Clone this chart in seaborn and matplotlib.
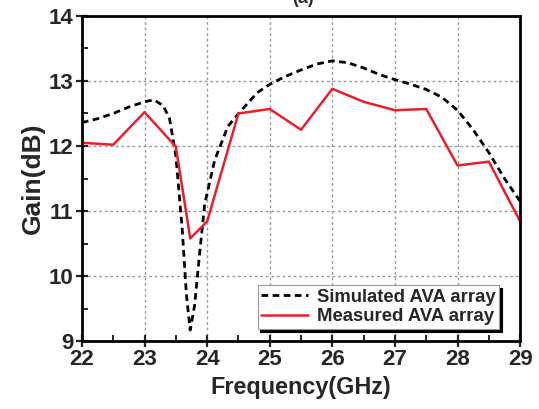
import matplotlib
import numpy as np
import pandas as pd
import seaborn as sns

matplotlib.use("Agg")
import matplotlib.pyplot as plt
from matplotlib.ticker import MultipleLocator

# simulated AVA array
sim_freq = [22.0, 22.25, 22.5, 22.75, 23.0, 23.15, 23.3, 23.4, 23.5, 23.6, 23.67,
            23.73, 23.8, 23.87, 23.96, 24.12, 24.33, 24.52, 24.8, 25.0, 25.25,
            25.5, 25.75, 26.0, 26.25, 26.5, 26.75, 27.0, 27.25, 27.5, 27.75,
            28.0, 28.25, 28.5, 28.75, 29.0]
sim_gain = [12.36, 12.42, 12.50, 12.60, 12.68, 12.71, 12.62, 12.42, 11.85, 10.75, 9.70,
            9.17, 9.55, 10.25, 11.10, 11.78, 12.30, 12.52, 12.82, 12.95, 13.07,
            13.17, 13.26, 13.31, 13.28, 13.20, 13.10, 13.02, 12.95, 12.87, 12.75,
            12.55, 12.25, 11.90, 11.50, 11.15]

# measured AVA array
meas_freq = [22.0, 22.5, 23.0, 23.5, 23.73, 24.0, 24.5, 25.0, 25.5, 26.0, 26.5,
             27.0, 27.5, 28.0, 28.5, 29.0]
meas_gain = [12.05, 12.02, 12.52, 11.99, 10.58, 10.84, 12.50, 12.57, 12.25, 12.88, 12.68,
             12.55, 12.57, 11.70, 11.76, 10.84]

sns.set_theme(style="ticks")
plt.rcParams["font.family"] = ["Liberation Sans", "DejaVu Sans"]
plt.rcParams["font.weight"] = "bold"

sim = pd.DataFrame({"freq": sim_freq, "gain": sim_gain})
meas = pd.DataFrame({"freq": meas_freq, "gain": meas_gain})

fig = plt.figure(figsize=(5.39, 4.09), dpi=100)
ax = fig.add_axes([0.152, 0.166, 0.813, 0.795])

sns.lineplot(data=sim, x="freq", y="gain", ax=ax, color="black", lw=2.0,
             dashes=False, linestyle=(0, (2.4, 1.6)), label="Simulated AVA array")
sns.lineplot(data=meas, x="freq", y="gain", ax=ax, color="#e8202a", lw=1.8,
             label="Measured AVA array")

ax.set_xlim(22, 29)
ax.set_ylim(9, 14)
ax.xaxis.set_major_locator(MultipleLocator(1))
ax.xaxis.set_minor_locator(MultipleLocator(0.5))
ax.yaxis.set_major_locator(MultipleLocator(1))
ax.yaxis.set_minor_locator(MultipleLocator(0.5))
ax.tick_params(which="major", direction="inout", length=8, width=1.6,
               labelsize=16, pad=2, top=False, right=False)
ax.tick_params(which="minor", direction="in", length=4, width=1.4,
               top=False, right=False)
for lab in ax.get_xticklabels() + ax.get_yticklabels():
    lab.set_fontweight("bold")
for sp in ax.spines.values():
    sp.set_linewidth(2.0)
    sp.set_color("black")

ax.grid(True, which="major", color="#9a9a9a", linestyle=(0, (2, 2)), lw=1.0)
ax.set_axisbelow(True)

ax.set_xlabel("Frequency(GHz)", fontsize=16.8, fontweight="bold", labelpad=4)
ax.set_ylabel("Gain(dB)", fontsize=19, fontweight="bold", labelpad=3)

leg = ax.legend(loc="lower right", bbox_to_anchor=(0.952, 0.037), frameon=True,
                fancybox=False, shadow={"color": "black", "alpha": 1.0},
                handlelength=2.5, handletextpad=0.5, borderpad=0.2,
                labelspacing=0.15, borderaxespad=0,
                prop={"size": 13.3, "weight": "bold"})
leg.get_frame().set_edgecolor("#9a9a9a")
leg.get_frame().set_linewidth(0.8)

fig.text(0.562, 0.982, "(a)", ha="center", va="bottom", fontsize=13, fontweight="bold")

fig.savefig("out.png", dpi=100)
